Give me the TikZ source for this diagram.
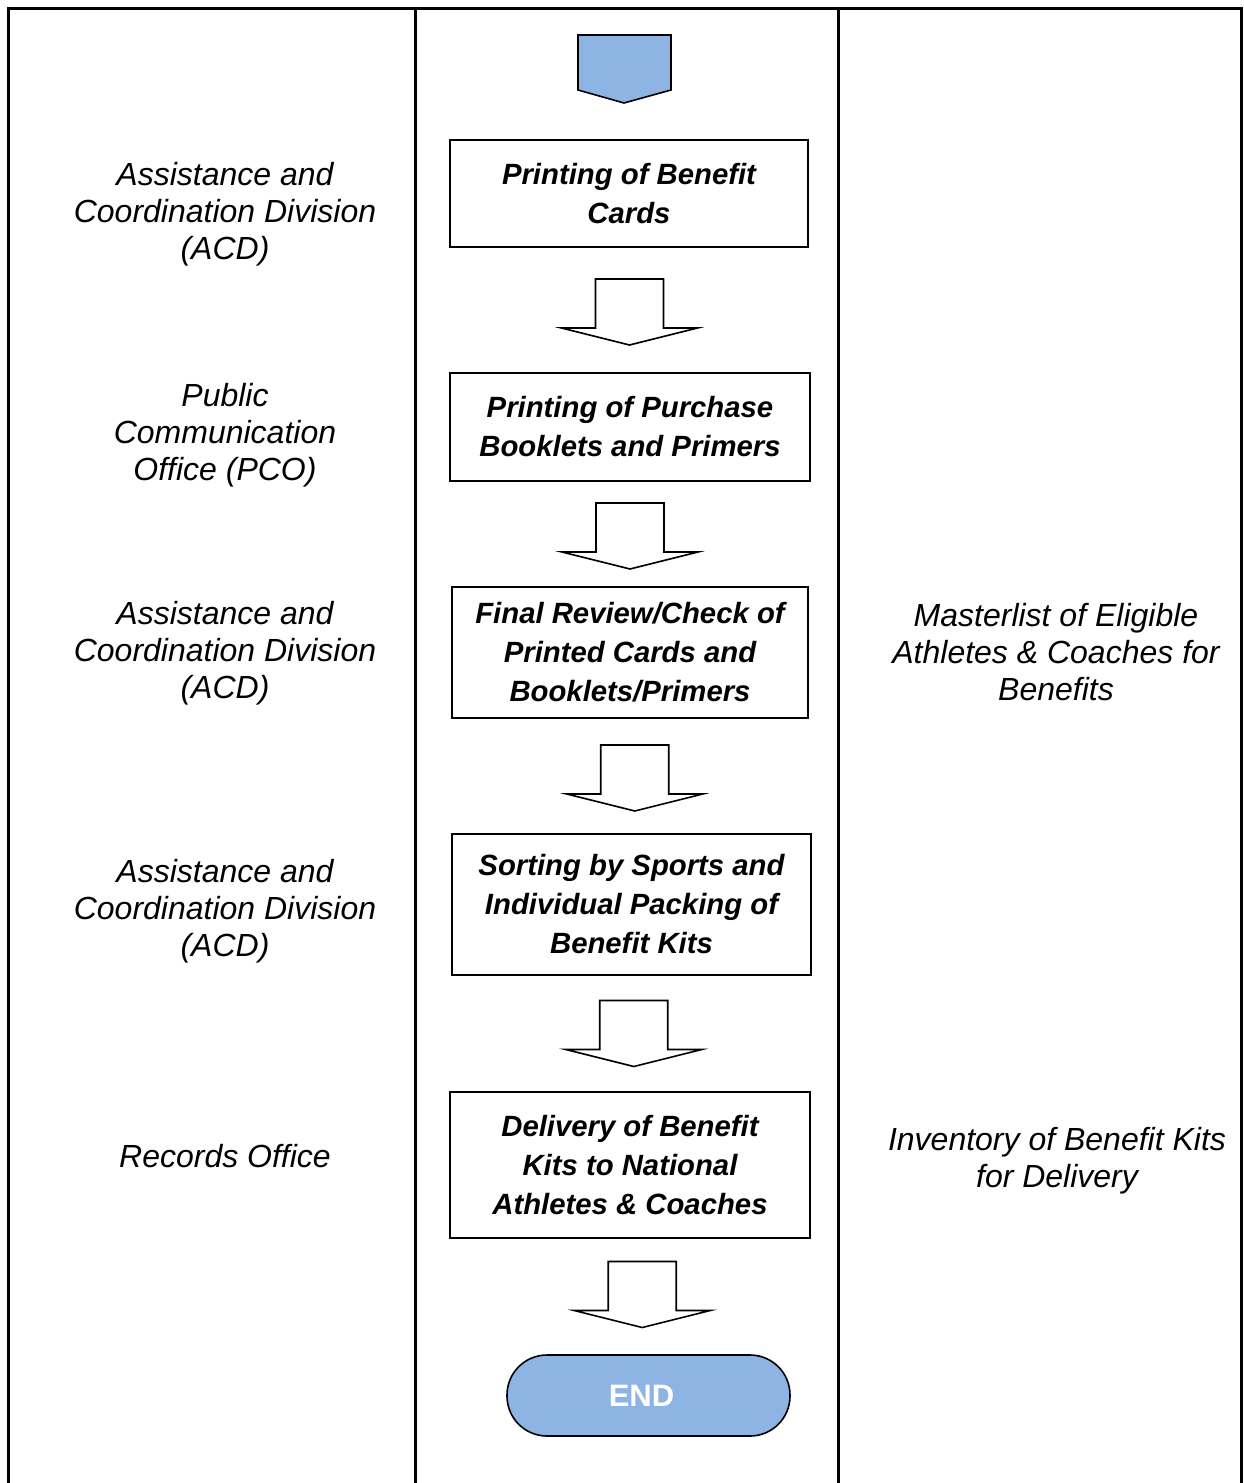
\documentclass[tikz,border=0pt]{standalone}
\usepackage{fontspec}
\setmainfont{Liberation Sans}
\usetikzlibrary{calc}
\definecolor{flowblue}{HTML}{8EB4E3}

\tikzset{
  tableline/.style={line width=3pt},
  sidelabel/.style={align=center, font=\fontsize{32}{37}\selectfont\itshape},
  stepbox/.style={draw, line width=1.6pt, align=center, inner sep=4pt,
    font=\fontsize{29.3}{39}\selectfont\bfseries\itshape},
  endbox/.style={draw, line width=1.6pt, fill=flowblue, rounded corners=40pt,
    minimum width=283pt, minimum height=81pt, text=white,
    font=\fontsize{31}{37}\selectfont\bfseries},
  blockarrow/.pic={
    \draw[line width=1.6pt, fill=white, line join=miter]
      (-34,-33) -- (34,-33) -- (34,16) -- (68,16) -- (0,33)
      -- (-68,16) -- (-34,16) -- cycle;
  }
}

\begin{document}
\begin{tikzpicture}[x=1pt,y=-1pt]
  \useasboundingbox (0,0) rectangle (1244,1483);

  % Table frame and columns
  \draw[tableline] (8,1483) -- (8,8) -- (1241,8) -- (1241,1483);
  \draw[tableline] (415,8) -- (415,1483);
  \draw[tableline] (838,8) -- (838,1483);

  % Start symbol
  \draw[line width=1.6pt, fill=flowblue]
    (578,35) -- (671,35) -- (671,90) -- (624,103) -- (578,90) -- cycle;

  % Process steps
  \node[stepbox, minimum width=358pt, minimum height=107pt] (cards) at (629,193.5)
    {Printing of Benefit\\Cards};
  \node[stepbox, minimum width=360pt, minimum height=108pt] (booklets) at (630,427)
    {Printing of Purchase\\Booklets and Primers};
  \node[stepbox, minimum width=356pt, minimum height=131pt] (review) at (630,652.5)
    {Final Review/Check of\\Printed Cards and\\Booklets/Primers};
  \node[stepbox, minimum width=359pt, minimum height=141pt] (sorting) at (631.5,904.5)
    {Sorting by Sports and\\Individual Packing of\\Benefit Kits};
  \node[stepbox, minimum width=360pt, minimum height=146pt] (delivery) at (630,1165)
    {Delivery of Benefit\\Kits to National\\Athletes \& Coaches};
  \node[endbox] (end) at (648.5,1395.5) {END\hspace*{14pt}};

  % Block arrows between the steps
  \path ($(cards.south)!0.5!(booklets.north)+(0,2)$) pic {blockarrow};
  \path ($(booklets.south)!0.5!(review.north)+(0,2)$) pic {blockarrow};
  \path ($(review.south)!0.5!(sorting.north)+(4,2)$) pic {blockarrow};
  \path ($(sorting.south)!0.5!(delivery.north)+(3,0)$) pic {blockarrow};
  \path ($(delivery.south)!0.5!(end.north)+(3,-2)$) pic {blockarrow};

  % Responsible offices
  \node[sidelabel] (acdA) at (225,214) {Assistance and\\Coordination Division\\(ACD)};
  \node[sidelabel] (pco) at (225,435) {Public\\Communication\\Office (PCO)};
  \node[sidelabel] (acdB) at (225,653) {Assistance and\\Coordination Division\\(ACD)};
  \node[sidelabel] (acdC) at (225,911) {Assistance and\\Coordination Division\\(ACD)};
  \node[sidelabel] (records) at (225,1156) {Records Office};

  % Outputs
  \node[sidelabel] (masterlist) at (1056,652) {Masterlist of Eligible\\Athletes \& Coaches for\\Benefits};
  \node[sidelabel] (inventory) at (1057,1161) {Inventory of Benefit Kits\\for Delivery};
\end{tikzpicture}
\end{document}
